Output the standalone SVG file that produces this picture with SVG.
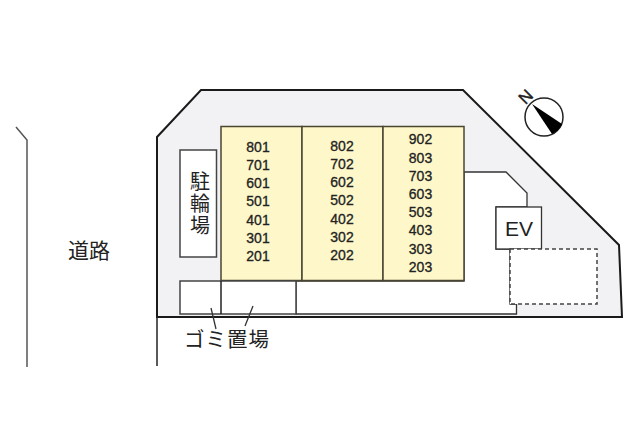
<svg xmlns="http://www.w3.org/2000/svg" width="640" height="427" viewBox="0 0 640 427">
<style>
.n{font:500 14px "Liberation Sans",Arial,sans-serif;fill:#222;text-anchor:middle;stroke:#222;stroke-width:.3}
.j{font-family:"Noto Sans CJK JP","Noto Sans",sans-serif;fill:#222;text-anchor:middle}
.l{fill:none;stroke:#222;stroke-width:1.500}
.b{fill:#fdf7c9;stroke:#4a4632;stroke-width:1.500}
.w{fill:#fff;stroke:#444;stroke-width:1.500}
</style>
<rect width="640" height="427" fill="#fff"/>
<g id="site">
<path d="M157 137L201 90H463L619 245L622 317H157Z" fill="#f2f2f4" stroke="#1a1a1a" stroke-width="2"/>
<path d="M157 317V366" class="l"/>
<path d="M464 172H506L527 193V207H496V249H510V304H516.500V314H296V281H464Z" fill="#fff" stroke="#333" stroke-width="1.300"/>
</g>
<g id="road">
<path d="M16 127L27 140V367" fill="none" stroke="#555" stroke-width="1.500"/>
<text class="j" x="89" y="258" font-size="21">道路</text>
</g>
<g id="bike-parking">
<rect class="w" x="180" y="150" width="36.500" height="107"/>
<text x="200" y="171" font-family="Noto Sans CJK JP,Noto Sans,sans-serif" font-size="20" letter-spacing="2" fill="#222" writing-mode="vertical-rl">駐輪場</text>
</g>
<g id="building">
<rect class="b" x="221" y="126.500" width="81" height="154"/>
<rect class="b" x="302" y="126.500" width="81" height="154"/>
<rect class="b" x="383" y="126.500" width="81" height="154"/>
<g class="n">
<text x="258" y="151.700">801</text><text x="258" y="169.900">701</text><text x="258" y="188.100">601</text><text x="258" y="206.300">501</text><text x="258" y="224.500">401</text><text x="258" y="242.700">301</text><text x="258" y="260.900">201</text>
<text x="342" y="150.700">802</text><text x="342" y="168.900">702</text><text x="342" y="187.100">602</text><text x="342" y="205.300">502</text><text x="342" y="223.500">402</text><text x="342" y="241.700">302</text><text x="342" y="259.900">202</text>
<text x="420.500" y="144.300">902</text><text x="420.500" y="162.500">803</text><text x="420.500" y="180.700">703</text><text x="420.500" y="198.900">603</text><text x="420.500" y="217.100">503</text><text x="420.500" y="235.300">403</text><text x="420.500" y="253.500">303</text><text x="420.500" y="271.700">203</text>
</g>
</g>
<g id="garbage">
<rect class="w" x="180" y="281" width="116" height="33"/>
<path d="M221 281V314" class="l" stroke="#555"/>
<text class="j" x="227" y="347" font-size="20.500" letter-spacing="1">ゴミ置場</text>
</g>
<g id="ev">
<rect x="496" y="207" width="45.500" height="42" fill="#fff" stroke="#333" stroke-width="1.300"/>
<text x="519" y="235.500" font-family="Liberation Sans,Arial,sans-serif" font-size="21" fill="#222" text-anchor="middle">EV</text>
</g>
<g id="dashed-area">
<path d="M510 249H597V304H510Z" fill="#fff" stroke="#444" stroke-width="1.500" stroke-dasharray="4 3"/>
</g>
<g id="connectors">
<path d="M211 308L216 329M253 306L245 326" fill="none" stroke="#333" stroke-width="1.300"/>
</g>
<g id="compass">
<circle cx="544" cy="117" r="19" fill="#fff" stroke="#222" stroke-width="1.500"/>
<path d="M532 104L562 124Q560 130 552 134Z" fill="#000"/>
<text x="0" y="0" transform="translate(526 97) rotate(-45)" font-family="Liberation Sans,Arial,sans-serif" font-size="17" fill="#222" stroke="#222" stroke-width=".4" text-anchor="middle" dominant-baseline="central">N</text>
</g>
</svg>
